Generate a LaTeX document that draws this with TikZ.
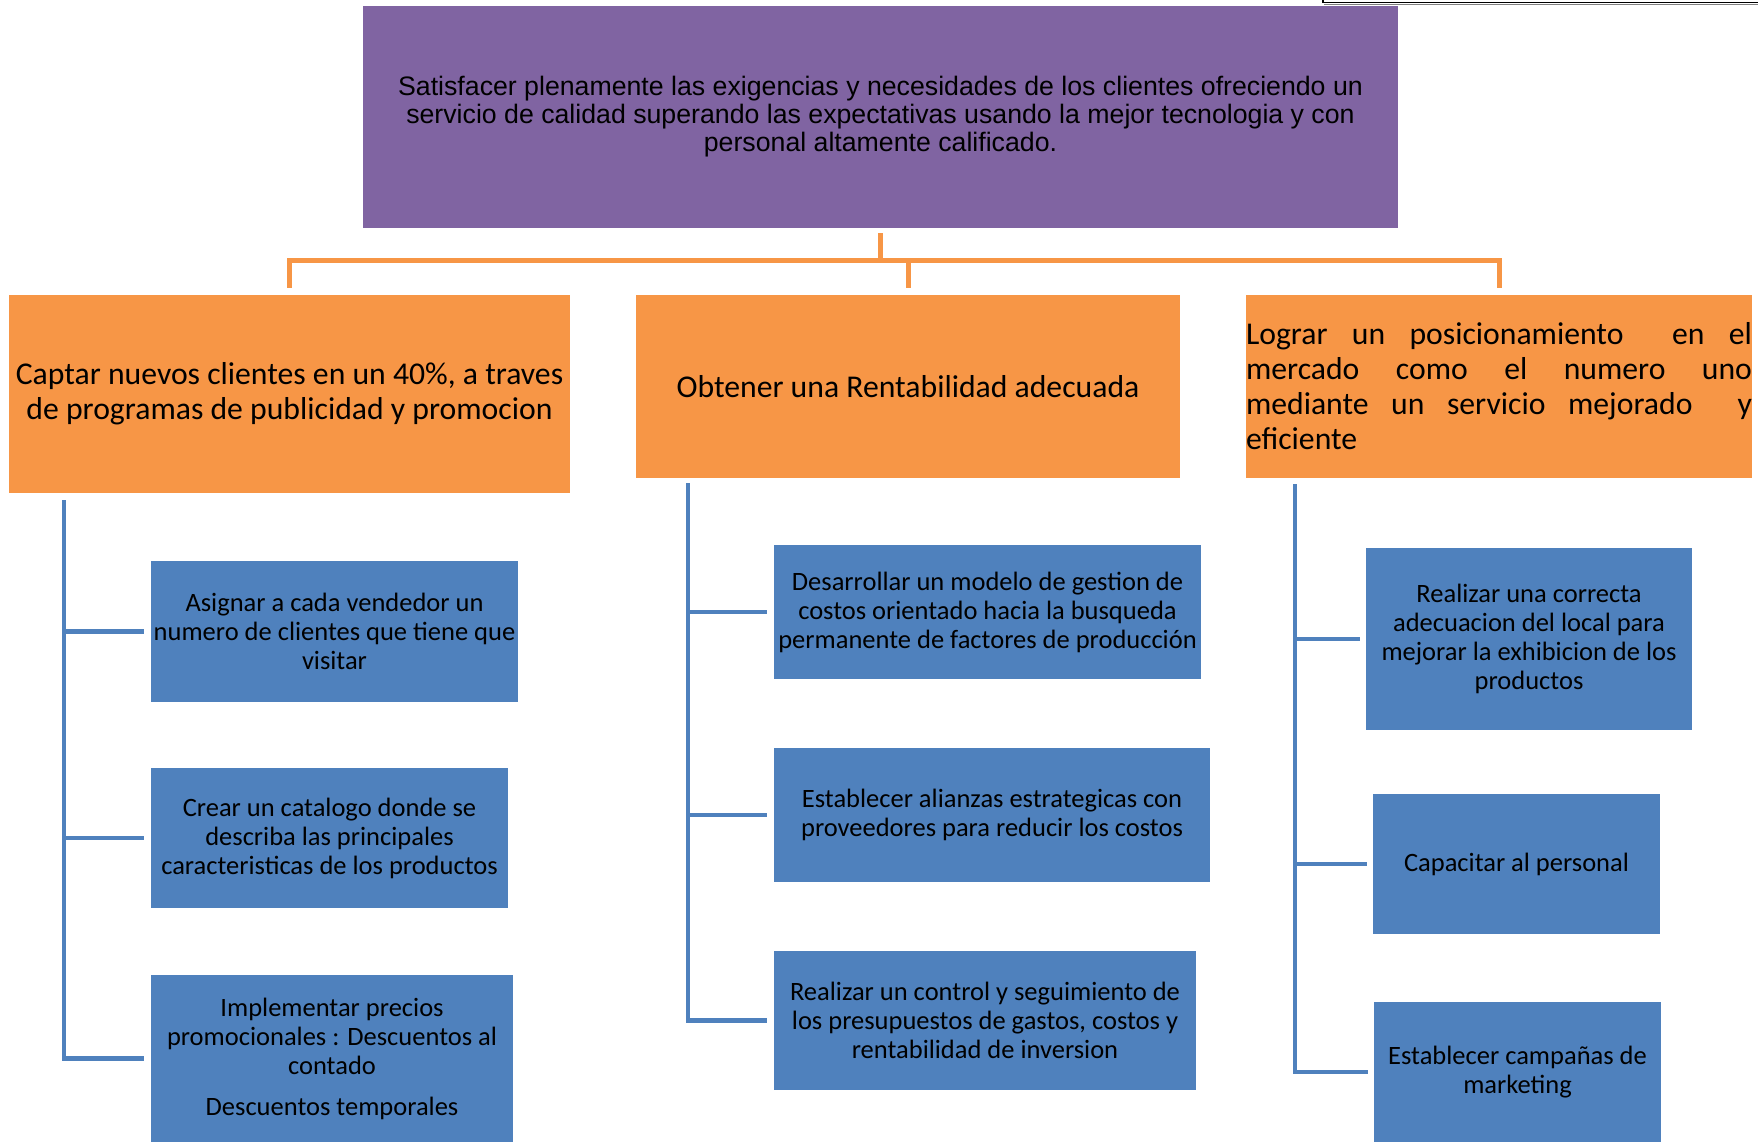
\documentclass[tikz,border=0pt]{standalone}
\usepackage{fontspec}
\setmainfont{Carlito}
\newfontfamily\arialfont{Liberation Sans}
\usetikzlibrary{positioning}
\definecolor{misionpurple}{HTML}{8064A2}
\definecolor{objorange}{HTML}{F79646}
\definecolor{accblue}{HTML}{4F81BD}
\tikzset{
  mision/.style={rectangle,fill=misionpurple,inner sep=0pt,align=center,font=\arialfont\fontsize{26.7}{28}\selectfont},
  objetivo/.style={rectangle,fill=objorange,inner sep=0pt,align=center,font=\fontsize{31.7}{35}\selectfont},
  accion/.style={rectangle,fill=accblue,inner sep=0pt,align=center,font=\fontsize{26.5}{29}\selectfont},
  orangeline/.style={draw=objorange,line width=5pt},
  blueline/.style={draw=accblue,line width=4.5pt}
}

\begin{document}
\begin{tikzpicture}[x=1pt,y=-1pt]
\useasboundingbox (0,0) rectangle (1758,1142);
\draw[black,line width=1.5pt] (1323,0) -- (1323,2.7) -- (1758,2.7);
\draw[gray,line width=1pt] (1324,4.3) -- (1758,4.3);

\node[mision,minimum width=1035pt,minimum height=222pt] (mision) at (880.5,117)
  {Satisfacer plenamente las exigencias y necesidades de los clientes ofreciendo un\\
   servicio de calidad superando las expectativas usando la mejor tecnologia y con\\
   personal altamente calificado.};

\node[objetivo,minimum width=561pt,minimum height=198pt] (obj1) at (289.5,394)
  {Captar nuevos clientes en un 40\%, a traves\\de programas de publicidad y promocion};
\node[objetivo,minimum width=544pt,minimum height=183pt] (obj2) at (908,386.5)
  {Obtener una Rentabilidad adecuada};
\node[objetivo,minimum width=506pt,minimum height=183pt,text width=506pt,align=justify] (obj3) at (1499,386.5)
  {Lograr un posicionamiento\ \ en el\linebreak mercado como el numero uno\linebreak mediante un servicio mejorado\ \ y\linebreak eficiente};

\node[accion,minimum width=367pt,minimum height=141pt] (b1) at (334.5,631.5)
  {Asignar a cada vendedor un\\numero de clientes que tiene que\\visitar};
\node[accion,minimum width=357pt,minimum height=140pt] (b2) at (329.5,838)
  {Crear un catalogo donde se\\describa las principales\\caracteristicas de los productos};
\node[accion,minimum width=362pt,minimum height=167pt] (b3) at (332,1058.5)
  {Implementar precios\\promocionales : Descuentos al\\contado\\[12pt]Descuentos temporales};

\node[accion,minimum width=427pt,minimum height=134pt] (m1) at (987.5,612)
  {Desarrollar un modelo de gestion de\\costos orientado hacia la busqueda\\permanente de factores de producción};
\node[accion,minimum width=436pt,minimum height=134pt] (m2) at (992,815)
  {Establecer alianzas estrategicas con\\proveedores para reducir los costos};
\node[accion,minimum width=422pt,minimum height=139pt] (m3) at (985,1020.5)
  {Realizar un control y seguimiento de\\los presupuestos de gastos, costos y\\rentabilidad de inversion};

\node[accion,minimum width=326pt,minimum height=182pt] (r1) at (1529,639)
  {Realizar una correcta\\adecuacion del local para\\mejorar la exhibicion de los\\productos};
\node[accion,minimum width=287pt,minimum height=140pt] (r2) at (1516.5,864)
  {Capacitar al personal};
\node[accion,minimum width=287pt,minimum height=140pt] (r3) at (1517.5,1072)
  {Establecer campañas de\\marketing};

\draw[orangeline] ([yshift=-5pt]mision.south) -- ++(0,28);
\draw[orangeline] ([yshift=7pt]obj1.north) -- ++(0,-27) -| ([yshift=7pt]obj3.north);
\draw[orangeline] ([yshift=7pt]obj2.north) -- ++(0,-27);

\coordinate (t1) at ([xshift=55pt,yshift=-7pt]obj1.south west);
\coordinate (t2) at ([xshift=52pt,yshift=-5pt]obj2.south west);
\coordinate (t3) at ([xshift=49pt,yshift=-6pt]obj3.south west);

\draw[blueline] (t1) |- ([xshift=-7pt]b3.west);
\draw[blueline] (t1 |- b1.west) -- ([xshift=-7pt]b1.west);
\draw[blueline] (t1 |- b2.west) -- ([xshift=-7pt]b2.west);

\draw[blueline] (t2) |- ([xshift=-7pt]m3.west);
\draw[blueline] (t2 |- m1.west) -- ([xshift=-7pt]m1.west);
\draw[blueline] (t2 |- m2.west) -- ([xshift=-7pt]m2.west);

\draw[blueline] (t3) |- ([xshift=-6pt]r3.west);
\draw[blueline] (t3 |- r1.west) -- ([xshift=-6pt]r1.west);
\draw[blueline] (t3 |- r2.west) -- ([xshift=-6pt]r2.west);
\end{tikzpicture}
\end{document}
